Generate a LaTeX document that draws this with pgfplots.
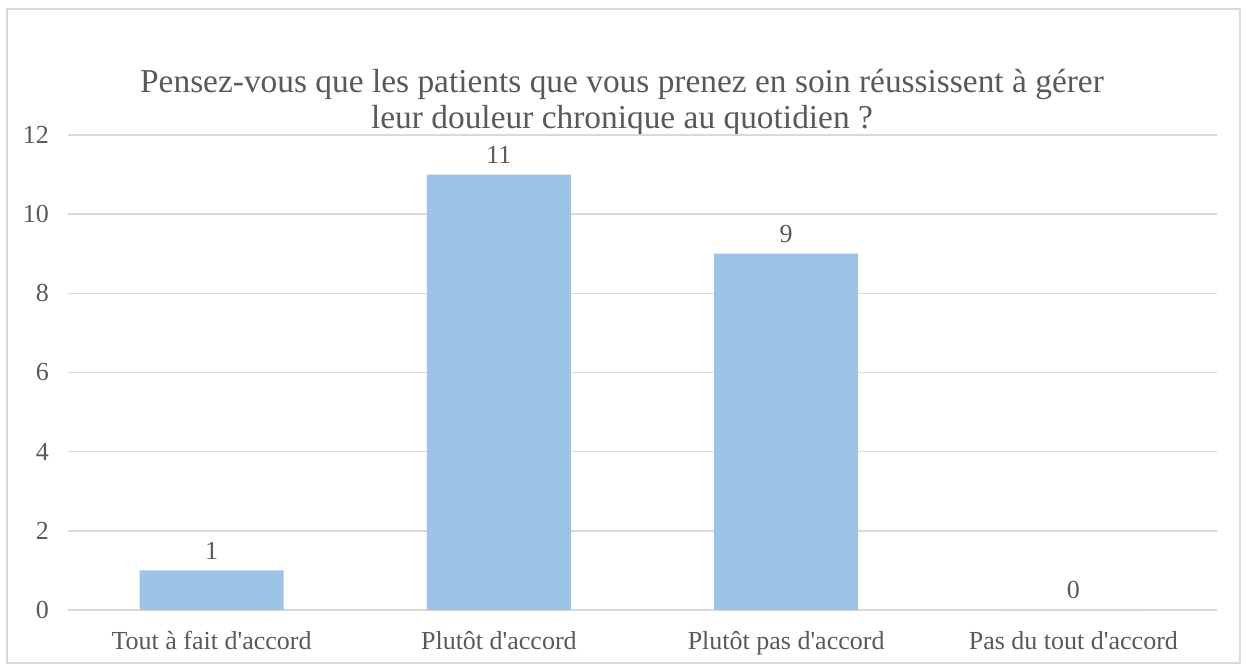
\documentclass[border=0pt]{standalone}
\usepackage{fontspec}
\setmainfont{Liberation Serif}
\usepackage{pgfplots}
\pgfplotsset{compat=1.18}
\definecolor{txt}{HTML}{595959}
\definecolor{barc}{HTML}{9DC3E6}
\definecolor{gridc}{HTML}{D9D9D9}
\begin{document}
\begin{tikzpicture}
\useasboundingbox (0,0) rectangle (623pt,332pt);
\draw[gridc, line width=0.8pt] (3.5pt,0.5pt) rectangle (620pt,327.5pt);
\node[text=txt, font=\fontsize{16.7}{18}\selectfont, align=center] at (311pt,281pt)
  {Pensez-vous que les patients que vous prenez en soin réussissent à gérer\\leur douleur chronique au quotidien ?};
\begin{axis}[
  scale only axis,
  at={(34pt,27pt)}, anchor=south west,
  width=574.5pt, height=237.5pt,
  ymin=0, ymax=12, ytick={0,2,...,12},
  xmin=-0.5, xmax=3.5,
  xtick=data,
  xticklabels={Tout à fait d\textquotesingle accord, Plutôt d\textquotesingle accord, Plutôt pas d\textquotesingle accord, Pas du tout d\textquotesingle accord},
  axis line style={draw=none},
  tick style={draw=none},
  ymajorgrids,
  grid style={gridc, line width=0.8pt},
  ticklabel style={text=txt, font=\fontsize{13}{14}\selectfont},
  /pgf/number format/assume math mode=true,
  yticklabel style={xshift=-6pt},
  xticklabel style={yshift=-3pt},
  ybar, bar width=72pt,
  nodes near coords,
  every node near coord/.append style={text=txt, font=\fontsize{13}{14}\selectfont, yshift=2pt},
]
\addplot[fill=barc, draw=none] coordinates {(0,1) (1,11) (2,9) (3,0)};
\end{axis}
\end{tikzpicture}
\end{document}
